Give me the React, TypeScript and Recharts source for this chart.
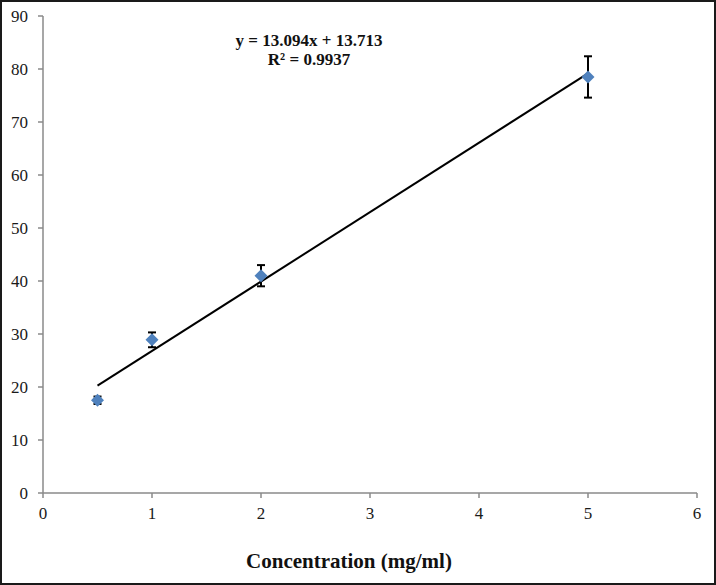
import { ErrorBar, ReferenceLine, Scatter, ScatterChart, XAxis, YAxis } from "recharts";

const concentration = [0.5, 1, 2, 5];
const inhibition = [17.5, 28.9, 41.0, 78.5];
const errors = [0.7, 1.4, 2.0, 3.9];

const trendX = [0.5, 5];
const trendY = [20.26, 79.18];

const xTicks = [0, 1, 2, 3, 4, 5, 6];
const yTicks = [0, 10, 20, 30, 40, 50, 60, 70, 80, 90];

const equationLines = ["y = 13.094x + 13.713", "R² = 0.9937"];

const data = concentration.map((c, i) => ({ x: c, y: inhibition[i], err: errors[i] }));

const SERIF = '"Liberation Serif", "Times New Roman", serif';
const AXIS = "#8a8a8a";

function Diamond(props: any) {
  const { cx, cy } = props;
  if (cx == null || cy == null) return null;
  return (
    <polygon
      points={`${cx},${cy - 6.5} ${cx + 6.5},${cy} ${cx},${cy + 6.5} ${cx - 6.5},${cy}`}
      fill="#4f81bd"
    />
  );
}

function Tick(props: any) {
  const { x, y, payload, textAnchor, verticalAnchor } = props;
  const dy = verticalAnchor === "start" ? "0.71em" : "0.355em";
  return (
    <text x={x} y={y} dy={dy} textAnchor={textAnchor} fontFamily={SERIF} fontSize={17} fill="#1a1a1a">
      {payload.value}
    </text>
  );
}

export default function App() {
  return (
    <div
      style={{
        position: "absolute",
        left: 0,
        top: 0,
        width: 716,
        height: 585,
        background: "#fff",
        fontFamily: SERIF,
      }}
    >
      <ScatterChart width={716} height={585} margin={{ top: 16, right: 19, bottom: 0, left: 0 }}>
        <XAxis
          type="number"
          dataKey="x"
          domain={[0, 6]}
          ticks={xTicks}
          height={92}
          tickSize={5}
          tickMargin={9}
          stroke={AXIS}
          axisLine={{ stroke: AXIS, strokeWidth: 1.5 }}
          tickLine={{ stroke: AXIS, strokeWidth: 1.5 }}
          tick={<Tick />}
          label={{
            value: "Concentration (mg/ml)",
            position: "insideBottom",
            offset: 17,
            dx: -21,
            style: { fill: "#111", fontSize: 21, fontWeight: "bold", fontFamily: SERIF },
          }}
        />
        <YAxis
          type="number"
          dataKey="y"
          domain={[0, 90]}
          ticks={yTicks}
          width={43}
          tickSize={5}
          tickMargin={10}
          stroke={AXIS}
          axisLine={{ stroke: AXIS, strokeWidth: 1.5 }}
          tickLine={{ stroke: AXIS, strokeWidth: 1.5 }}
          tick={<Tick />}
        />
        <Scatter data={data} shape={<Diamond />} isAnimationActive={false}>
          <ErrorBar dataKey="err" direction="y" width={4} stroke="#000" strokeWidth={2} />
        </Scatter>
        <ReferenceLine
          segment={[
            { x: trendX[0], y: trendY[0] },
            { x: trendX[1], y: trendY[1] },
          ]}
          stroke="#000"
          strokeWidth={2}
        />
      </ScatterChart>
      <svg width={716} height={585} style={{ position: "absolute", left: 0, top: 0, pointerEvents: "none" }}>
        {equationLines.map((t, i) => (
          <text
            key={t}
            x={309}
            y={46 + i * 19}
            textAnchor="middle"
            fontFamily={SERIF}
            fontSize={17}
            fontWeight="bold"
            fill="#111"
          >
            {t}
          </text>
        ))}
      </svg>
      <div
        style={{
          position: "absolute",
          left: 0,
          top: 0,
          width: 716,
          height: 585,
          boxSizing: "border-box",
          border: "2px solid #1a1a1a",
          pointerEvents: "none",
        }}
      />
    </div>
  );
}
